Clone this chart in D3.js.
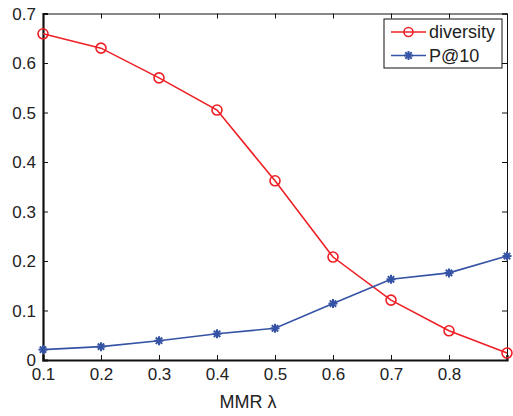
<!DOCTYPE html>
<html>
<head>
<meta charset="utf-8">
<script src="https://cdn.jsdelivr.net/npm/d3@7"></script>
<style>
  body { margin: 0; background: #fff; }
  text { font-family: "Liberation Sans", Arial, sans-serif; fill: #222; }
</style>
</head>
<body>
<div class="canvas"></div>
<script>
// data
const lambdas = [0.1, 0.2, 0.3, 0.4, 0.5, 0.6, 0.7, 0.8, 0.9];
const diversity = [0.659, 0.630, 0.570, 0.505, 0.362, 0.208, 0.121, 0.059, 0.014];
const p10 = [0.021, 0.027, 0.039, 0.053, 0.064, 0.114, 0.163, 0.176, 0.210];
const xTicks = [0.1, 0.2, 0.3, 0.4, 0.5, 0.6, 0.7, 0.8];
const yTicks = [0, 0.1, 0.2, 0.3, 0.4, 0.5, 0.6, 0.7];
const seriesNames = ['diversity', 'P@10'];

// chart dims
const W = 513, H = 416;
const m = {left: 43, right: 6, top: 13.5, bottom: 56};
const iw = W - m.left - m.right, ih = H - m.top - m.bottom;

const red = '#ee2026', blue = '#3553a4';

const svg = d3.select('.canvas').append('svg')
    .attr('width', W)
    .attr('height', H);

const g = svg.append('g').attr('transform', `translate(${m.left},${m.top})`);

const x = d3.scaleLinear().domain([0.1, 0.9]).range([0, iw]);
const y = d3.scaleLinear().domain([0, 0.7]).range([ih, 0]);

// axes, matlab style with inward ticks
const fmtY = d => d === 0 ? '0' : d3.format('.1f')(d);
const xAxis = g.append('g').attr('transform', `translate(0,${ih})`)
    .call(d3.axisBottom(x).tickValues(xTicks).tickSize(-5).tickPadding(8).tickFormat(d3.format('.1f')));
const yAxis = g.append('g')
    .call(d3.axisLeft(y).tickValues(yTicks).tickSize(-5).tickPadding(8).tickFormat(fmtY));
const xTop = g.append('g')
    .call(d3.axisTop(x).tickValues(lambdas).tickSize(-5).tickFormat(''));
const yRight = g.append('g').attr('transform', `translate(${iw},0)`)
    .call(d3.axisRight(y).tickValues(yTicks).tickSize(-5).tickFormat(''));

[xAxis, yAxis].forEach(a => {
  a.select('.domain').attr('stroke', '#111').attr('stroke-width', 2.2);
  a.selectAll('.tick line').attr('stroke', '#111');
  a.selectAll('.tick text').style('font-size', '17px').attr('fill', '#222');
});
[xTop, yRight].forEach(a => {
  a.select('.domain').attr('stroke', '#111').attr('stroke-width', 1);
  a.selectAll('.tick line').attr('stroke', '#111');
});
// last x tick on bottom (0.9) has no label
xAxis.append('line').attr('x1', x(0.9)).attr('x2', x(0.9)).attr('y1', 0).attr('y2', -5).attr('stroke', '#111');

xAxis.selectAll('.tick text').attr('y', 0).attr('dy', '1.18em');
yAxis.selectAll('.tick text').attr('x', -7).attr('dy', '0.35em');

// axis label
svg.append('text')
    .attr('x', 248)
    .attr('y', 408)
    .attr('text-anchor', 'middle')
    .style('font-size', '18px')
    .text('MMR λ');

const line = d3.line().x((d, i) => x(lambdas[i])).y(d => y(d));

// diversity line
g.append('path').datum(diversity)
    .attr('d', line).attr('fill', 'none').attr('stroke', red).attr('stroke-width', 1.6);
g.selectAll('.circ').data(diversity).enter().append('circle')
    .attr('cx', (d, i) => x(lambdas[i])).attr('cy', d => y(d)).attr('r', 5)
    .attr('fill', 'none').attr('stroke', red).attr('stroke-width', 1.6);

// star marker
const starPath = (gg, cx, cy) => {
  const s = gg.append('g').attr('transform', `translate(${cx},${cy})`);
  [0, 45, 90, 135].forEach(a => {
    s.append('line')
      .attr('x1', -4.5).attr('x2', 4.5).attr('y1', 0).attr('y2', 0)
      .attr('transform', `rotate(${a})`)
      .attr('stroke', blue).attr('stroke-width', 2);
  });
};

g.append('path').datum(p10)
    .attr('d', line).attr('fill', 'none').attr('stroke', blue).attr('stroke-width', 1.6);
p10.forEach((d, i) => starPath(g, x(lambdas[i]), y(d)));

// legend
const lg = svg.append('g').attr('transform', 'translate(384,19)');
lg.append('rect').attr('width', 118).attr('height', 49)
    .attr('fill', '#fff').attr('stroke', '#111').attr('stroke-width', 1);
[red, blue].forEach((c, i) => {
  const yy = 13 + i * 23.5;
  lg.append('line').attr('x1', 7).attr('x2', 42).attr('y1', yy).attr('y2', yy)
    .attr('stroke', c).attr('stroke-width', 1.6);
  if (i === 0) {
    lg.append('circle').attr('cx', 24.5).attr('cy', yy).attr('r', 4.5)
      .attr('fill', 'none').attr('stroke', c).attr('stroke-width', 1.6);
  } else {
    starPath(lg, 24.5, yy);
  }
  lg.append('text').attr('x', 45).attr('y', yy).attr('dy', '0.35em')
    .style('font-size', '18px').text(seriesNames[i]);
});
</script>
</body>
</html>
